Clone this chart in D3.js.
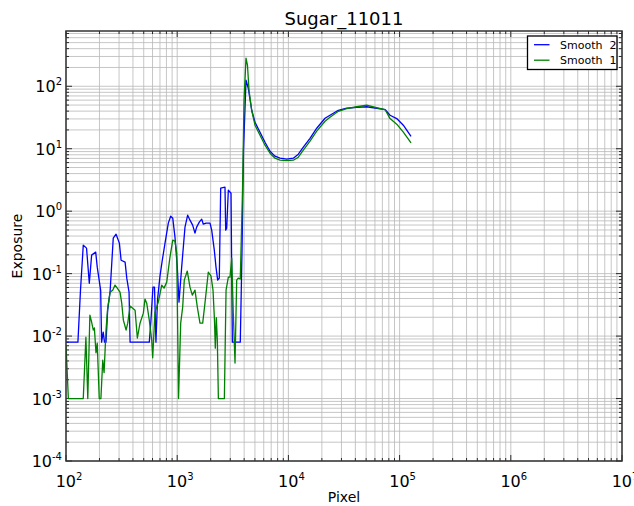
<!DOCTYPE html>
<html>
<head>
<meta charset="utf-8">
<script src="https://cdn.jsdelivr.net/npm/d3@7"></script>
<style>
  html, body { margin: 0; padding: 0; background: #fff; }
  svg { display: block; font-family: "DejaVu Sans", sans-serif; }
</style>
</head>
<body>
<div id="chart"></div>
<script>
// Smooth 2 (blue)
const smooth2X = [100, 128, 135, 143, 153, 162, 170, 185, 191, 205, 209, 216, 222, 229, 237, 249, 266, 282, 302, 313, 340, 352, 369, 377, 561, 581, 605, 625, 644, 665, 700, 730, 777, 832, 874, 912, 955, 1002, 1038, 1097, 1175, 1242, 1303, 1377, 1445, 1496, 1580, 1661, 1717, 1816, 1972, 2043, 2156, 2233, 2312, 2391, 2461, 2690, 2730, 2787, 2883, 3048, 3133, 3692, 3828, 3948, 4156, 4357, 4677, 5010, 5556, 6162, 6834, 7579, 8405, 9655, 11077, 12280, 13620, 15640, 17980, 21340, 23660, 28110, 33440, 41110, 50580, 62230, 73960, 82040, 94220, 108000, 126700];
const smooth2Y = [0.008, 0.008, 0.0544, 0.286, 0.256, 0.070, 0.198, 0.221, 0.127, 0.054, 0.008, 0.0116, 0.008, 0.008, 0.026, 0.0506, 0.370, 0.428, 0.308, 0.164, 0.153, 0.0847, 0.0506, 0.008, 0.008, 0.018, 0.0608, 0.0608, 0.008, 0.0377, 0.0912, 0.153, 0.308, 0.643, 0.832, 0.773, 0.384, 0.127, 0.035, 0.127, 0.555, 0.863, 0.718, 0.597, 0.445, 0.555, 0.667, 0.745, 0.619, 0.643, 0.643, 0.497, 0.238, 0.127, 0.0787, 0.0847, 2.33, 2.42, 0.497, 0.535, 2.17, 1.94, 0.008, 0.008, 0.238, 9.46, 125, 92.9, 41.3, 26.5, 18.4, 12.7, 9.12, 7.59, 7.05, 6.79, 7.05, 8.17, 10.57, 14.7, 21.3, 30.8, 34.4, 41.3, 44.5, 46.1, 47.0, 44.5, 42.4, 34.4, 30.4, 23.8, 15.8];

// Smooth 1 (green)
const smooth1X = [100, 102, 105, 143, 151, 157, 164, 170, 176, 180, 186, 191, 199, 206, 214, 220, 229, 237, 249, 263, 276, 289, 306, 317, 328, 347, 359, 377, 398, 418, 438, 463, 496, 513, 532, 561, 590, 602, 631, 676, 726, 761, 805, 861, 912, 955, 991, 1028, 1075, 1120, 1158, 1232, 1303, 1367, 1445, 1517, 1603, 1695, 1777, 1904, 2015, 2099, 2164, 2202, 2248, 2296, 2346, 2656, 2750, 2883, 2986, 3092, 3194, 3311, 3428, 3540, 3692, 3867, 3990, 4156, 4285, 4424, 4677, 5010, 5556, 6162, 6834, 7579, 8405, 9655, 11077, 12280, 13620, 15640, 17980, 21340, 23660, 28110, 33440, 41110, 50580, 62230, 73960, 82040, 94220, 108000, 126700];
const smooth1Y = [0.0072, 0.0033, 0.001, 0.001, 0.0096, 0.001, 0.0217, 0.0167, 0.0125, 0.0135, 0.0054, 0.0077, 0.001, 0.001, 0.0041, 0.0026, 0.0125, 0.028, 0.0506, 0.0544, 0.0655, 0.0586, 0.0506, 0.0337, 0.018, 0.0125, 0.0161, 0.0302, 0.028, 0.026, 0.0093, 0.0161, 0.0233, 0.0391, 0.0337, 0.018, 0.0086, 0.0045, 0.0242, 0.035, 0.0655, 0.0586, 0.0731, 0.184, 0.344, 0.331, 0.213, 0.001, 0.0161, 0.0291, 0.0787, 0.110, 0.0608, 0.0453, 0.0544, 0.0291, 0.0161, 0.0161, 0.0337, 0.106, 0.0912, 0.0544, 0.018, 0.0064, 0.0197, 0.0086, 0.001, 0.001, 0.0544, 0.0879, 0.0879, 0.177, 0.0233, 0.0037, 0.0787, 0.0847, 0.082, 2.17, 59.7, 281, 217, 86.3, 41.3, 23.8, 16.4, 11.4, 8.47, 7.05, 6.55, 6.43, 6.55, 7.31, 9.46, 13.2, 19.1, 27.5, 31.9, 39.8, 43.7, 47.0, 49.7, 45.3, 42.4, 30.4, 24.7, 18.4, 12.4];

const xTickExp = [2, 3, 4, 5, 6, 7];
const yTickExp = [-4, -3, -2, -1, 0, 1, 2];
const legendLabels = ['Smooth  2', 'Smooth  1'];
const seriesColors = ['#0000ff', '#008000'];

const W = 634, H = 506;
const margin = { left: 66, right: 12, top: 31, bottom: 45 };

const svg = d3.select('#chart').append('svg')
  .attr('width', W).attr('height', H);

const x = d3.scaleLog().domain([1e2, 1e7]).range([margin.left, W - margin.right]);
const y = d3.scaleLog().domain([1e-4, Math.pow(10, 2.885)]).range([H - margin.bottom, margin.top]);

const x0 = margin.left, x1 = W - margin.right, y0 = H - margin.bottom, y1 = margin.top;

// grid (major + minor)
const grid = svg.append('g').attr('stroke', '#b8b8b8').attr('stroke-width', 0.8);
x.ticks().forEach(t => {
  grid.append('line').attr('x1', x(t)).attr('x2', x(t)).attr('y1', y0).attr('y2', y1);
});
y.ticks().forEach(t => {
  grid.append('line').attr('x1', x0).attr('x2', x1).attr('y1', y(t)).attr('y2', y(t));
});

// ticks inside on all four sides
const isMajor = t => Math.abs(Math.log10(t) - Math.round(Math.log10(t))) < 1e-9;
const ticks = svg.append('g').attr('stroke', '#000').attr('stroke-width', 0.8);
x.ticks().forEach(t => {
  const len = isMajor(t) ? 6 : 3;
  ticks.append('line').attr('x1', x(t)).attr('x2', x(t)).attr('y1', y0).attr('y2', y0 - len);
  ticks.append('line').attr('x1', x(t)).attr('x2', x(t)).attr('y1', y1).attr('y2', y1 + len);
});
y.ticks().forEach(t => {
  const len = isMajor(t) ? 6 : 3;
  ticks.append('line').attr('x1', x0).attr('x2', x0 + len).attr('y1', y(t)).attr('y2', y(t));
  ticks.append('line').attr('x1', x1).attr('x2', x1 - len).attr('y1', y(t)).attr('y2', y(t));
});

// series
const line = d3.line().x(d => x(d[0])).y(d => y(d[1]));
const series = [
  d3.zip(smooth2X, smooth2Y),
  d3.zip(smooth1X, smooth1Y)
];
const plot = svg.append('g');
plot.append('clipPath').attr('id', 'clip').append('rect')
  .attr('x', x0).attr('y', y1).attr('width', x1 - x0).attr('height', y0 - y1);
series.forEach((s, i) => {
  plot.append('path')
    .datum(s)
    .attr('clip-path', 'url(#clip)')
    .attr('fill', 'none')
    .attr('stroke', seriesColors[i])
    .attr('stroke-width', 1.3)
    .attr('stroke-linejoin', 'round')
    .attr('d', line);
});

// frame
svg.append('rect')
  .attr('x', x0).attr('y', y1).attr('width', x1 - x0).attr('height', y0 - y1)
  .attr('fill', 'none').attr('stroke', '#333').attr('stroke-width', 1.5);

// tick labels
function powLabel(g, e) {
  g.append('tspan').text('10');
  g.append('tspan').attr('font-size', 10).attr('dy', -7).text(e);
}
xTickExp.forEach(e => {
  const t = svg.append('text')
    .attr('x', x(Math.pow(10, e)) + 3).attr('y', y0 + 26)
    .attr('text-anchor', 'middle').attr('font-size', 16).attr('fill', '#000');
  powLabel(t, e);
});
yTickExp.forEach(e => {
  const t = svg.append('text')
    .attr('x', x0 - 4).attr('y', y(Math.pow(10, e)) + 6)
    .attr('text-anchor', 'end').attr('font-size', 16).attr('fill', '#000');
  powLabel(t, e);
});

// titles
svg.append('text')
  .attr('x', (x0 + x1) / 2).attr('y', 25)
  .attr('text-anchor', 'middle').attr('font-size', 18)
  .text('Sugar_11011');
svg.append('text')
  .attr('x', (x0 + x1) / 2).attr('y', 502)
  .attr('text-anchor', 'middle').attr('font-size', 14)
  .text('Pixel');
svg.append('text')
  .attr('transform', `translate(22, ${(y0 + y1) / 2}) rotate(-90)`)
  .attr('text-anchor', 'middle').attr('font-size', 14)
  .text('Exposure');

// legend
const lg = svg.append('g');
lg.append('rect')
  .attr('x', 527.5).attr('y', 36).attr('width', 89.5).attr('height', 33.5)
  .attr('fill', '#fff').attr('stroke', '#000').attr('stroke-width', 1.3);
legendLabels.forEach((lab, i) => {
  const ly = 44.7 + i * 15.5;
  lg.append('line')
    .attr('x1', 534).attr('x2', 549.5).attr('y1', ly).attr('y2', ly)
    .attr('stroke', seriesColors[i]).attr('stroke-width', 1.3);
  lg.append('text')
    .attr('x', 560).attr('y', ly + 4)
    .attr('font-size', 11).attr('xml:space', 'preserve')
    .style('white-space', 'pre')
    .text(lab);
});
</script>
</body>
</html>
